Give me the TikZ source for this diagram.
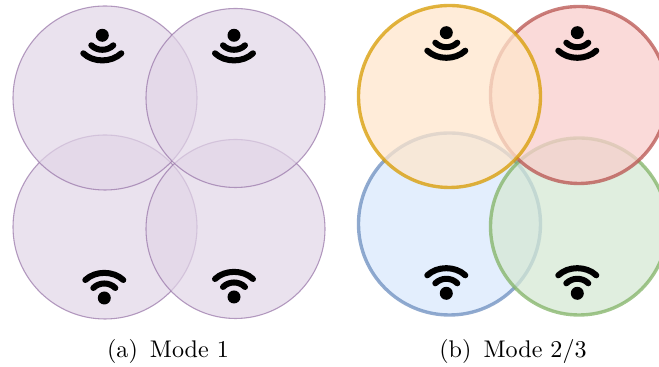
\documentclass[tikz,border=0pt]{standalone}
\tikzset{
  purplezone/.style={draw=cfp,fill=cff,opacity=.7,line width=.45pt},
  widezone/.style={opacity=.75,line width=1.4pt},
  wave/.style={line width=2.5pt,line cap=round,black},
  caplabel/.style={inner sep=0pt,anchor=center,font=\fontsize{10}{12}\selectfont},
}
\definecolor{cfp}{HTML}{9673A6}\definecolor{cff}{HTML}{E1D5E7}
\definecolor{cbd}{HTML}{6C8EBF}\definecolor{cbf}{HTML}{DAE8FC}
\definecolor{cgd}{HTML}{82B366}\definecolor{cgf}{HTML}{D5E8D4}
\definecolor{crd}{HTML}{B85450}\definecolor{crf}{HTML}{F8CECC}
\definecolor{cod}{HTML}{D79B00}\definecolor{cof}{HTML}{FFE6CC}
\newcommand{\signaldown}[2]{%
  \fill[black] (#1,#2) circle[radius=6.5];
  \draw[wave] (#1-11,#2+10) .. controls (#1-5,#2+16) and (#1+5,#2+16) .. (#1+11,#2+10);
  \draw[wave] (#1-19,#2+18) .. controls (#1-9,#2+27.5) and (#1+9,#2+27.5) .. (#1+19,#2+18);
}
\newcommand{\signalup}[2]{%
  \fill[black] (#1,#2) circle[radius=6.5];
  \draw[wave] (#1-11,#2-10) .. controls (#1-5,#2-16) and (#1+5,#2-16) .. (#1+11,#2-10);
  \draw[wave] (#1-19,#2-18) .. controls (#1-9,#2-27.5) and (#1+9,#2-27.5) .. (#1+19,#2-18);
}
\begin{document}
\begin{tikzpicture}[x=0.415pt,y=-0.415pt]
\useasboundingbox (0,0) rectangle (659,367);
\clip (0,0) rectangle (659,367);
% Mode 1
\path[purplezone] (105,227) circle[radius=92];
\path[purplezone] (235.5,229) circle[radius=89.5];
\path[purplezone] (105,98) circle[radius=92];
\path[purplezone] (235.5,98) circle[radius=89.5];
% Mode 2/3
\path[widezone,draw=cbd,fill=cbf] (449.5,224) circle[radius=91];
\path[widezone,draw=cgd,fill=cgf] (579,226.5) circle[radius=88.5];
\path[widezone,draw=crd,fill=crf] (579,95) circle[radius=88.5];
\path[widezone,draw=cod,fill=cof] (449.5,96.5) circle[radius=91];
% icons
\signaldown{102.3}{35.3}
\signaldown{234}{35.3}
\signalup{104.3}{298}
\signalup{234}{297}
\signaldown{446.3}{32.7}
\signaldown{577.3}{32.7}
\signalup{446.3}{293.3}
\signalup{577.3}{293.3}
% captions
\node[caplabel] (capa) at (168,351) {(a)\enskip Mode 1};
\node[caplabel] (capb) at (513,351) {(b)\enskip Mode 2/3};
\end{tikzpicture}
\end{document}
